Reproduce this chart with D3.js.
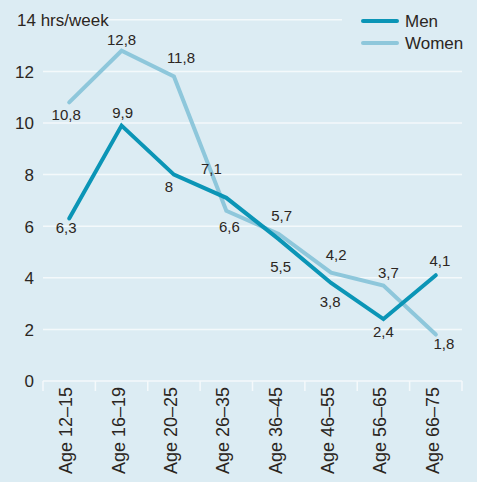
<!DOCTYPE html>
<html>
<head>
<meta charset="utf-8">
<script src="https://cdn.jsdelivr.net/npm/d3@7"></script>
<style>
  body { margin: 0; background: #dcecf3; }
  svg { display: block; font-family: "Liberation Sans", Arial, sans-serif; }
</style>
</head>
<body>
<svg id="chart" width="477" height="482"></svg>
<script>
// age groups and hours per week
const ages = ["Age 12–15", "Age 16–19", "Age 20–25", "Age 26–35", "Age 36–45", "Age 46–55", "Age 56–65", "Age 66–75"];
const men = [6.3, 9.9, 8, 7.1, 5.5, 3.8, 2.4, 4.1];
const women = [10.8, 12.8, 11.8, 6.6, 5.7, 4.2, 3.7, 1.8];
const yTicks = [0, 2, 4, 6, 8, 10, 12, 14];

// label nudges (dx, dy) relative to each point
const menLabelPos = [[-3, 15], [1, -8], [-5, 17], [-15, -24], [2, 33], [-1, 24], [0, 18], [4, -9]];
const womenLabelPos = [[-3, 18], [0, -6], [7, -14], [3, 21], [3, -13], [5, -13], [5, -8], [8, 14]];

const menColor = "#0b95b6";
const womenColor = "#8ec7db";
const textColor = "#2b2622";
const gridColor = "#f4f9fb";

const svg = d3.select("#chart");

const x = d3.scaleBand().domain(ages).range([43, 462]);
const y = d3.scaleLinear().domain([0, 14]).range([381, 19.8]);

// gridlines
svg.append("g").selectAll("line")
    .data(yTicks)
    .join("line")
    .attr("x1", 43)
    .attr("x2", d => d == 14 ? 342 : 462)
    .attr("y1", d => y(d))
    .attr("y2", d => y(d))
    .attr("stroke", gridColor)
    .attr("stroke-width", 1.5);

// y axis labels
svg.append("g").selectAll("text")
    .data(yTicks)
    .join("text")
    .attr("x", d => d == 14 ? 17 : 34)
    .attr("y", d => y(d))
    .attr("dy", "0.38em")
    .attr("text-anchor", d => d == 14 ? "start" : "end")
    .style("font-size", "17px")
    .style("fill", textColor)
    .text(d => d == 14 ? "14 hrs/week" : d);

// x axis ticks
const edges = ages.map(a => x(a)).concat([x.range()[1]]);
svg.append("g").selectAll("line")
    .data(edges)
    .join("line")
    .attr("x1", d => d)
    .attr("x2", d => d)
    .attr("y1", y(0))
    .attr("y2", y(0) + 10)
    .attr("stroke", gridColor)
    .attr("stroke-width", 1.5);

svg.append("g").selectAll("text")
    .data(ages)
    .join("text")
    .attr("transform", d => "translate(" + (x(d) + x.bandwidth() / 2 + 3) + "," + 387 + ") rotate(-90)")
    .attr("text-anchor", "end")
    .style("font-size", "18px")
    .style("fill", textColor)
    .text(d => d);

const cx = (d, i) => x(ages[i]) + x.bandwidth() / 2;

const line = d3.line()
    .x((d, i) => cx(d, i))
    .y(d => y(d));

const series = [
    { name: "Women", values: women, color: womenColor, pos: womenLabelPos },
    { name: "Men", values: men, color: menColor, pos: menLabelPos }
];

series.forEach(s => {
    svg.append("path")
        .datum(s.values)
        .attr("d", line)
        .attr("fill", "none")
        .attr("stroke", s.color)
        .attr("stroke-width", 4)
        .attr("stroke-linejoin", "miter")
        .attr("stroke-linecap", "round");
});

series.forEach(s => {
    svg.append("g").selectAll("text")
        .data(s.values)
        .join("text")
        .attr("x", (d, i) => cx(d, i) + s.pos[i][0])
        .attr("y", (d, i) => y(d) + s.pos[i][1])
        .attr("text-anchor", "middle")
        .style("font-size", "15px")
        .style("fill", textColor)
        .text(d => String(d).replace(".", ","));
});

// legend
const legend = svg.append("g");
[{ name: "Men", color: menColor }, { name: "Women", color: womenColor }].forEach((d, i) => {
    legend.append("line")
        .attr("x1", 363).attr("x2", 397)
        .attr("y1", 21 + i * 22).attr("y2", 21 + i * 22)
        .attr("stroke", d.color)
        .attr("stroke-width", 4)
        .attr("stroke-linecap", "round");
    legend.append("text")
        .attr("x", 405)
        .attr("y", 21 + i * 22)
        .attr("dy", "0.36em")
        .style("font-size", "17px")
        .style("fill", textColor)
        .text(d.name);
});
</script>
</body>
</html>
